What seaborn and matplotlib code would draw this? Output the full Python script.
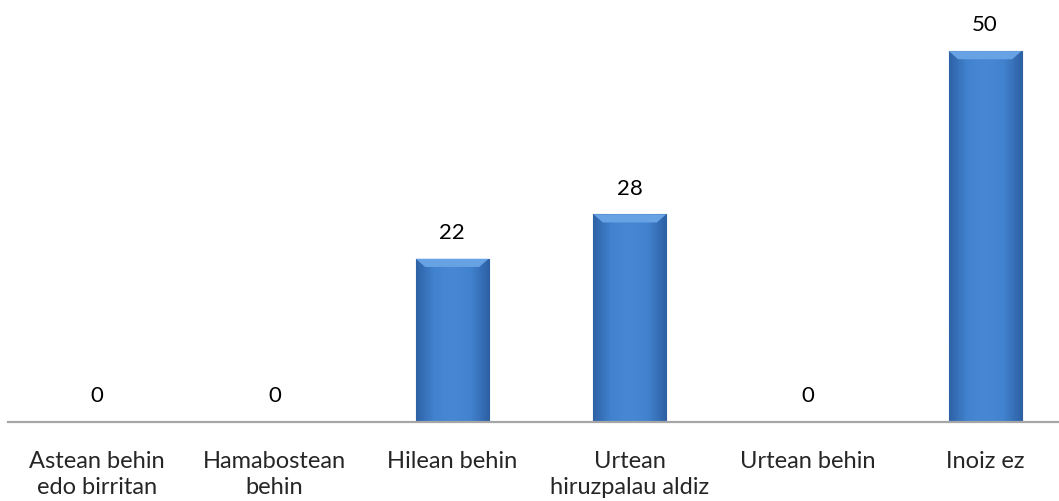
import numpy as np
import pandas as pd
import matplotlib.pyplot as plt
import seaborn as sns
from matplotlib.colors import LinearSegmentedColormap

# --- data ---
categories = ['Astean behin\nedo birritan', 'Hamabostean\nbehin', 'Hilean behin',
              'Urtean\nhiruzpalau aldiz', 'Urtean behin', 'Inoiz ez']
values = [0, 0, 22, 28, 0, 50]

df = pd.DataFrame({'cat': categories, 'val': values})

sns.set_style('white')
plt.rcParams['font.family'] = ['Lato', 'DejaVu Sans']

fig = plt.figure(figsize=(10.59, 5.02), dpi=100)
# plot area: left at 8px, runs slightly past the right edge like the original
ax = fig.add_axes([8 / 1059, 1 - 423 / 502, 1066 / 1059, 408 / 502])

sns.barplot(data=df, x='cat', y='val', color='#3f7fcc', width=0.41,
            edgecolor='#2d5f9f', linewidth=0.8, saturation=1, ax=ax)

ax.set_xlim(-0.5, 5.5)
ax.set_ylim(0, 55)

# horizontal shading on each bar (darker sides, lighter middle)
cmap = LinearSegmentedColormap.from_list('bev', ['#2e62a6', '#4283d0', '#4887d4', '#4283d0', '#2e62a6'])
grad = np.linspace(0, 1, 64).reshape(1, -1)
for p in ax.patches:
    x0, y0 = p.get_x(), p.get_y()
    w, h = p.get_width(), p.get_height()
    if h <= 0:
        continue
    im = ax.imshow(grad, extent=[x0, x0 + w, y0, y0 + h], aspect='auto',
                   cmap=cmap, zorder=p.get_zorder() + 0.1)
    im.set_clip_path(p)
    # lighter top bevel
    ax.fill([x0, x0 + w, x0 + w * 0.87, x0 + w * 0.13],
            [y0 + h, y0 + h, y0 + h - 1.1, y0 + h - 1.1],
            color='#67a2e4', zorder=p.get_zorder() + 0.2, lw=0)

# value labels
for i, v in enumerate(values):
    ax.text(i, v + 3.6, str(v), ha='center', va='center', fontsize=16, color='#000000')

for s in ['top', 'right', 'left']:
    ax.spines[s].set_visible(False)
ax.spines['bottom'].set_color('#a6a6a6')
ax.spines['bottom'].set_linewidth(1.6)

ax.set_yticks([])
ax.set_xlabel('')
ax.set_ylabel('')
ax.tick_params(axis='x', length=0, pad=20, labelsize=17)
ax.set_xticks(range(len(categories)))
ax.set_xticklabels(categories, linespacing=1.3)

fig.savefig('out.png', dpi=100)
